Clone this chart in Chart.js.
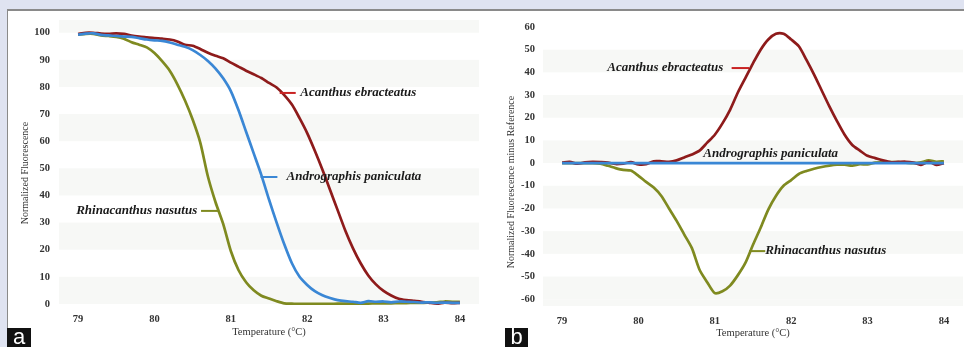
<!DOCTYPE html>
<html>
<head>
<meta charset="utf-8">
<script src="https://cdn.jsdelivr.net/npm/chart.js@4.4.1/dist/chart.umd.min.js"></script>
<style>
  html, body { margin: 0; padding: 0; }
  body { width: 964px; height: 347px; background: #dfe3f1; position: relative; overflow: hidden; }
  #frame { position: absolute; left: 7px; top: 9px; width: 957px; height: 338px; background: #fff;
           border-top: 2px solid #8a8a8a; border-left: 1px solid #8a8a8a; box-sizing: border-box; }
  canvas { position: absolute; top: 0; }
  #chartA { left: 0; }
  #chartB { left: 490px; }
  .tag { position: absolute; top: 328px; height: 19px; background: #111; color: #fff;
         font: 22px "Liberation Sans", Arial, sans-serif; line-height: 17px; text-align: center; }
</style>
</head>
<body>
<div id="frame"></div>
<canvas id="chartA" width="490" height="347"></canvas>
<canvas id="chartB" width="474" height="347"></canvas>
<div class="tag" style="left:7px;width:24px;">a</div>
<div class="tag" style="left:505px;width:23px;">b</div>
<script>
// temperature steps (°C)
const temps = [79.0,79.1,79.2,79.3,79.4,79.5,79.6,79.7,79.8,79.9,
  80.0,80.1,80.2,80.3,80.4,80.5,80.6,80.7,80.8,80.9,
  81.0,81.1,81.2,81.3,81.4,81.5,81.6,81.7,81.8,81.9,
  82.0,82.1,82.2,82.3,82.4,82.5,82.6,82.7,82.8,82.9,
  83.0,83.1,83.2,83.3,83.4,83.5,83.6,83.7,83.8,83.9,84.0];

// panel a - normalized fluorescence
const acanthusNorm = [99.5,100,100,99.7,99.6,99.8,99.6,99,98.6,98.3,
  98,97.8,97.5,96.8,95.6,95.2,94,92.6,91.5,90.6,
  89,87.5,86,84.7,83.3,81.5,79.8,77,73.5,68.5,
  63,56.5,49.5,42,34.5,27,20.5,15,10.5,7.2,
  4.8,3.1,1.9,1.4,1.1,0.8,0.4,0.1,0.5,0.3,0.4];
const androNorm = [99.3,99.7,99.8,99.2,99,98.8,98.6,98.5,98,97.5,
  97.2,97,96.4,95.6,94.8,93.6,91.8,89.6,86.8,83.2,
  78.5,71.5,63.5,55.5,47.5,38.5,30,22,15,10,
  7,4.7,3.2,2.2,1.4,1,0.8,0.4,1,0.8,
  0.9,0.6,0.9,0.8,0.7,0.5,0.6,0.4,0.5,0.4,0.4];
const rhinaNorm = [99.3,99.6,99.6,99,98.8,98.5,97.8,96.5,95.6,94.6,
  92.5,89.5,86,81,75,68,59.5,47,37.5,29.5,
  19.5,12.5,8,5,3,2,1,0.2,0.1,0,
  0,0,0,0,0.1,0.1,0.1,0.1,0.1,0.2,
  0.2,0.2,0.3,0.3,0.4,0.4,0.5,0.6,0.9,0.8,0.8];

// panel b - difference from reference
const acanthusDiff = [0.2,0.5,-0.3,0.3,0.5,0.4,0.2,-0.4,-0.2,0.4,
  -0.6,-0.5,0.8,0.8,0.6,1.2,2.5,3.8,5.5,9,
  12.5,17.5,23.5,31,37.5,44,50,54.5,57,57,
  54.5,51.5,45.5,39,32,25,18.5,12.5,8,5.5,
  3.2,2.2,1.2,0.4,0.5,0.6,0.2,-0.8,0.6,-0.8,0];
const androDiff = [0,0,0,0,0,0,0,0,0,0,
  0,0,0,0,0,0,0,0,0,0,
  0,0,0,0,0,0,0,0,0,0,
  0,0,0,0,0,0,0,0,0,0,
  0,0,0,0,0,0,0,0,0,0,0];
const rhinaDiff = [0,0,0,0,0,-0.3,-1.2,-2.2,-3,-3.3,
  -5.6,-8.3,-10.8,-14.5,-20,-25.5,-31.5,-37.5,-47,-52.5,
  -57.3,-56.5,-54,-49.5,-44,-36,-28.5,-20.5,-14.5,-10,
  -7.5,-4.8,-3.5,-2.5,-1.7,-1.1,-0.7,-0.7,-1.1,-0.5,
  -0.6,0.2,0.3,0.4,0.4,0.2,0,0.3,1.2,0.6,0.8];

const xTicks = [79, 80, 81, 82, 83, 84];
const yTicksA = [0, 10, 20, 30, 40, 50, 60, 70, 80, 90, 100];
const yTicksB = [-60, -50, -40, -30, -20, -10, 0, 10, 20, 30, 40, 50, 60];

const RED = '#8e1b1b', BLUE = '#3a87d5', GREEN = '#7f8a20';
const SERIF = '"Liberation Serif", "Times New Roman", serif';

function pts(ys) { return temps.map((t, i) => ({x: t, y: ys[i]})); }

// faint alternating bands behind the curves
const bandsPlugin = {
  id: 'bands',
  beforeDatasetsDraw(chart, args, opts) {
    const {ctx, chartArea: a, scales: {y}} = chart;
    ctx.save();
    ctx.fillStyle = '#f7f8f6';
    opts.starts.forEach(v => {
      const top = Math.max(a.top, y.getPixelForValue(v + 10));
      const bot = Math.min(a.bottom, y.getPixelForValue(v));
      if (bot > top) ctx.fillRect(a.left, top, a.right - a.left, bot - top);
    });
    ctx.restore();
  }
};

// series name callouts + rotated y title
const namesPlugin = {
  id: 'names',
  afterDatasetsDraw(chart, args, opts) {
    const {ctx, scales: {x, y}} = chart;
    ctx.save();
    ctx.font = 'italic bold 13px ' + SERIF;
    ctx.textBaseline = 'middle';
    opts.items.forEach(it => {
      const py = y.getPixelForValue(it.y);
      if (it.seg) {
        ctx.strokeStyle = it.color;
        ctx.lineWidth = 2;
        ctx.beginPath();
        ctx.moveTo(x.getPixelForValue(it.seg[0]), py);
        ctx.lineTo(x.getPixelForValue(it.seg[1]), py);
        ctx.stroke();
      }
      ctx.fillStyle = '#1a1a1a';
      ctx.textAlign = it.align;
      ctx.fillText(it.text, x.getPixelForValue(it.x), py);
    });
    // y axis title
    ctx.translate(opts.yTitle.cx, opts.yTitle.cy);
    ctx.rotate(-Math.PI / 2);
    ctx.font = '10px ' + SERIF;
    ctx.fillStyle = '#333';
    ctx.textAlign = 'center';
    ctx.fillText(opts.yTitle.text, 0, 0);
    ctx.restore();
  }
};

function makeChart(id, sets, yMin, yMax, yTicks, cfg) {
  return new Chart(document.getElementById(id), {
    type: 'line',
    data: {
      datasets: sets.map(s => ({
        data: pts(s.data), borderColor: s.color, borderWidth: 2.7,
        pointRadius: 0, tension: 0.25, fill: false, order: s.order
      }))
    },
    options: {
      responsive: false, animation: false,
      layout: {padding: cfg.padding},
      plugins: {
        legend: {display: false}, tooltip: {enabled: false},
        bands: {starts: cfg.bands},
        names: {items: cfg.names, yTitle: cfg.yTitle}
      },
      scales: {
        x: {
          type: 'linear', min: 78.75, max: 84.25,
          afterBuildTicks: s => { s.ticks = xTicks.map(v => ({value: v})); },
          afterFit: s => { s.height = cfg.xHeight; },
          grid: {display: false, drawTicks: false}, border: {display: false},
          ticks: {padding: cfg.xPad, color: '#333', font: {family: SERIF, size: 10.5, weight: 'bold'}},
          title: {display: true, text: 'Temperature (°C)', color: '#333',
                  padding: {top: 0, bottom: cfg.xTitlePad}, font: {family: SERIF, size: 10.5}}
        },
        y: {
          min: yMin, max: yMax,
          afterBuildTicks: s => { s.ticks = yTicks.map(v => ({value: v})); },
          afterFit: s => { s.width = cfg.yWidth; },
          grid: {display: false, drawTicks: false}, border: {display: false},
          ticks: {padding: cfg.yPad, color: '#333', font: {family: SERIF, size: 10.5, weight: 'bold'}}
        }
      }
    },
    plugins: [bandsPlugin, namesPlugin]
  });
}

makeChart('chartA', [
  {data: rhinaNorm, color: GREEN, order: 2},
  {data: acanthusNorm, color: RED, order: 1},
  {data: androNorm, color: BLUE, order: 0}
], -0.4, 104.7, yTicksA, {
  padding: {top: 20, right: 11, left: 0, bottom: 0},
  xHeight: 42, yWidth: 59, yPad: 9, xPad: 8, xTitlePad: 8.5,
  yTitle: {text: 'Normalized Fluorescence', cx: 25, cy: 173},
  bands: [0, 20, 40, 60, 80, 100],
  names: [
    {text: 'Acanthus ebracteatus', x: 81.91, y: 77.8, seg: [81.64, 81.85], color: '#c92323', align: 'left'},
    {text: 'Andrographis paniculata', x: 81.73, y: 46.8, seg: [81.39, 81.61], color: BLUE, align: 'left'},
    {text: 'Rhinacanthus nasutus', x: 80.56, y: 34.3, seg: [80.61, 80.84], color: GREEN, align: 'right'}
  ]
});

makeChart('chartB', [
  {data: rhinaDiff, color: GREEN, order: 2},
  {data: acanthusDiff, color: RED, order: 1},
  {data: androDiff, color: BLUE, order: 0}
], -63, 62.2, yTicksB, {
  padding: {top: 22, right: 1, left: 0, bottom: 0},
  xHeight: 41, yWidth: 53, yPad: 8, xPad: 9, xTitlePad: 7,
  yTitle: {text: 'Normalized Fluorescence minus Reference', cx: 21, cy: 182},
  bands: [-70, -60, -40, -20, 0, 20, 40],
  names: [
    {text: 'Acanthus ebracteatus', x: 81.11, y: 41.9, seg: [81.22, 81.45], color: '#c92323', align: 'right'},
    {text: 'Andrographis paniculata', x: 80.85, y: 4.0, color: BLUE, align: 'left'},
    {text: 'Rhinacanthus nasutus', x: 81.66, y: -38.8, seg: [81.45, 81.66], color: GREEN, align: 'left'}
  ]
});
</script>
</body>
</html>
